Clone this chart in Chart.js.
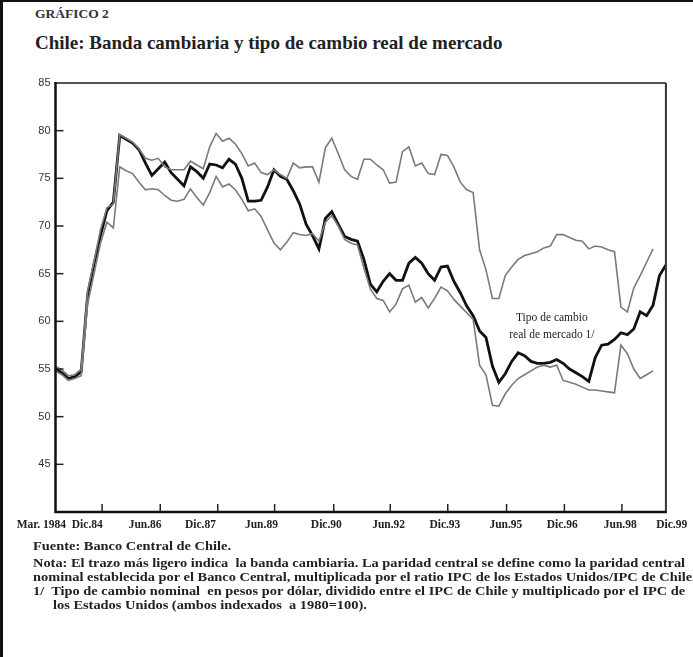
<!DOCTYPE html>
<html lang="es">
<head>
<meta charset="utf-8">
<script src="https://cdn.jsdelivr.net/npm/chart.js@4.4.1/dist/chart.umd.min.js"></script>
<style>
  html, body { margin: 0; padding: 0; background: #fff; }
  body { width: 693px; height: 657px; position: relative; overflow: hidden; font-family: "Liberation Serif", serif; color: #222; }
  .borde-izq { position: absolute; left: 0; top: 0; width: 3px; height: 657px; background: #111; }
  .borde-sup { position: absolute; left: 0; top: 0; width: 693px; height: 2px; background: #111; }
  .grafico { position: absolute; left: 35px; top: 6px; font-weight: bold; font-size: 13.5px; color: #333; }
  .titulo { position: absolute; left: 35px; top: 32px; font-weight: bold; font-size: 19px; color: #222; white-space: nowrap; }
  #contenedor { position: absolute; left: 0; top: 70px; width: 693px; height: 470px; }
  .nota { position: absolute; font-weight: bold; font-size: 12px; white-space: nowrap; color: #222; transform: scaleX(1.2); transform-origin: 0 0; }
</style>
</head>
<body>
<div class="borde-izq"></div>
<div class="borde-sup"></div>
<div class="grafico">GRÁFICO 2</div>
<div class="titulo">Chile: Banda cambiaria y tipo de cambio real de mercado</div>
<div id="contenedor"><canvas id="bandaChart"></canvas></div>
<div class="nota" style="left:33px; top:539px;">Fuente: Banco Central de Chile.</div>
<div class="nota" style="left:33px; top:556px;">Nota: El trazo más ligero indica&nbsp; la banda cambiaria. La paridad central se define como la paridad central</div>
<div class="nota" style="left:33px; top:570px;">nominal establecida por el Banco Central, multiplicada por el ratio IPC de los Estados Unidos/IPC de Chile.</div>
<div class="nota" style="left:33px; top:584px;">1/&nbsp; Tipo de cambio nominal&nbsp; en pesos por dólar, dividido entre el IPC de Chile y multiplicado por el IPC de</div>
<div class="nota" style="left:53px; top:598px;">los Estados Unidos (ambos indexados&nbsp; a 1980=100).</div>
<script>
// meses desde Mar. 1984, un dato cada dos meses
const pasoMeses = 2;

const tcr = [
  55.0, 54.6, 54.0, 54.2, 54.7, 62.8, 66.0, 69.0, 71.6, 72.5,
  79.5, 79.1, 78.7, 78.0, 76.6, 75.3, 76.0, 76.7, 75.6, 74.9,
  74.2, 76.2, 75.7, 75.0, 76.5, 76.4, 76.1, 77.0, 76.5, 75.0,
  72.6, 72.6, 72.7, 74.1, 75.9, 75.2, 74.9, 73.7, 72.3, 70.2,
  69.0, 67.6, 70.8, 71.5, 70.2, 68.9, 68.6, 68.4, 66.5, 63.9,
  63.1, 64.2, 65.0, 64.3, 64.3, 66.1, 66.7, 66.1, 65.0, 64.3,
  65.7, 65.8, 64.2, 63.0, 61.6, 60.6, 59.0, 58.3, 55.3, 53.6,
  54.5, 55.8, 56.7, 56.4, 55.8, 55.6, 55.6, 55.7, 56.0, 55.6,
  55.0, 54.6, 54.2, 53.7, 56.2, 57.5, 57.6, 58.1, 58.8, 58.6,
  59.2, 61.0, 60.6, 61.7, 64.8, 65.9
];

const bandaSup = [
  55.3, 54.9, 54.3, 54.4, 55.0, 63.2, 66.3, 69.6, 71.9, 72.3,
  79.6, 79.2, 78.8, 78.1, 77.1, 76.9, 77.1, 76.2, 75.9, 75.9,
  75.9, 76.8, 76.4, 76.0, 78.3, 79.7, 78.9, 79.2, 78.6, 77.6,
  76.3, 76.6, 75.6, 75.4, 75.9, 75.4, 75.0, 76.6, 76.1, 76.2,
  76.2, 74.6, 78.2, 79.2, 77.6, 75.9, 75.2, 74.9, 77.0, 77.0,
  76.4, 75.9, 74.5, 74.6, 77.8, 78.3, 76.3, 76.6, 75.5, 75.4,
  77.5, 77.4, 76.2, 74.6, 73.8, 73.5, 67.5, 65.4, 62.4, 62.4,
  64.8, 65.7, 66.5, 66.9, 67.1, 67.3, 67.7, 67.9, 69.1, 69.1,
  68.8, 68.5, 68.4, 67.6, 67.9, 67.8, 67.5, 67.3, 61.5, 61.0,
  63.5, 64.8, 66.2, 67.6
];

const bandaInf = [
  54.8, 54.4, 53.8, 54.0, 54.3, 61.8, 65.0, 68.2, 70.4, 69.8,
  76.2, 75.8, 75.5, 74.6, 73.8, 73.9, 73.8, 73.2, 72.7, 72.6,
  72.8, 73.9, 73.0, 72.2, 73.5, 75.2, 74.1, 74.4, 73.8, 72.8,
  71.6, 71.8, 71.0, 69.6, 68.2, 67.5, 68.3, 69.3, 69.1, 69.0,
  69.2, 68.4, 70.4, 71.1, 70.0, 68.6, 68.2, 68.0, 65.6, 63.4,
  62.4, 62.2, 61.0, 61.8, 63.4, 63.8, 62.0, 62.5, 61.4, 62.4,
  63.6, 63.2, 62.3, 61.6, 60.9, 60.2, 55.4, 54.4, 51.2, 51.1,
  52.4, 53.3, 54.0, 54.4, 54.8, 55.2, 55.4, 55.2, 55.4, 53.8,
  53.6, 53.4, 53.1, 52.8, 52.8, 52.7, 52.6, 52.5, 57.5, 56.6,
  55.0, 54.0, 54.4, 54.8
];

const etiquetasX = ['Mar. 1984', 'Dic.84', 'Jun.86', 'Dic.87', 'Jun.89', 'Dic.90',
                    'Jun.92', 'Dic.93', 'Jun.95', 'Dic.96', 'Jun.98', 'Dic.99'];
const posEtiquetas = [-4.4, 9.9, 27.9, 45.1, 64.1, 84.3, 103.7, 121.2, 140.2, 157.7, 175.8, 191.8];
const marcasX = [14.5, 32.6, 50.5, 68.2, 86.6, 104.2, 122.1, 140.4, 158.4, 176.3];
const marcasY = [45, 50, 55, 60, 65, 70, 75, 80];
const textoSerie = ['Tipo de cambio', 'real de mercado 1/'];
const posTexto = [154.5, 60.4, 58.6];

const aPuntos = arr => arr.map((v, i) => ({ x: i * pasoMeses, y: v }));

const marco = {
    id: 'marco',
    afterDatasetsDraw(chart) {
        const { ctx, chartArea: a, scales: { x, y } } = chart;
        ctx.save();
        ctx.strokeStyle = '#222';
        ctx.lineWidth = 1.5;
        marcasY.forEach(v => {
            const py = y.getPixelForValue(v);
            ctx.beginPath(); ctx.moveTo(a.left, py); ctx.lineTo(a.left + 8, py); ctx.stroke();
        });
        marcasX.forEach(v => {
            const px = x.getPixelForValue(v);
            ctx.beginPath(); ctx.moveTo(px, a.bottom); ctx.lineTo(px, a.bottom - 8); ctx.stroke();
        });
        // recuadro
        ctx.lineWidth = 2;
        ctx.strokeStyle = '#555';
        ctx.beginPath(); ctx.moveTo(a.left, a.top); ctx.lineTo(a.right, a.top); ctx.stroke();
        ctx.strokeStyle = '#333';
        ctx.beginPath(); ctx.moveTo(a.right, a.top); ctx.lineTo(a.right, a.bottom); ctx.stroke();
        ctx.lineWidth = 2.5;
        ctx.strokeStyle = '#111';
        ctx.beginPath(); ctx.moveTo(a.left, a.top - 1); ctx.lineTo(a.left, a.bottom); ctx.lineTo(a.right + 1, a.bottom); ctx.stroke();
        // rótulo de la serie
        ctx.fillStyle = '#222';
        ctx.font = '11.5px "Liberation Serif", serif';
        ctx.textAlign = 'center';
        ctx.textBaseline = 'middle';
        const tx = x.getPixelForValue(posTexto[0]);
        ctx.fillText(textoSerie[0], tx, y.getPixelForValue(posTexto[1]));
        ctx.fillText(textoSerie[1], tx, y.getPixelForValue(posTexto[2]));
        ctx.restore();
    }
};

document.addEventListener('DOMContentLoaded', () => {
    const ctx = document.getElementById('bandaChart').getContext('2d');
    new Chart(ctx, {
        type: 'line',
        data: {
            datasets: [{
                label: 'Banda superior',
                data: aPuntos(bandaSup),
                borderColor: '#7a7a7a',
                borderWidth: 1.6,
                pointRadius: 0,
                tension: 0
            }, {
                label: 'Banda inferior',
                data: aPuntos(bandaInf),
                borderColor: '#7a7a7a',
                borderWidth: 1.6,
                pointRadius: 0,
                tension: 0
            }, {
                label: 'Tipo de cambio real de mercado',
                data: aPuntos(tcr),
                borderColor: '#111',
                borderWidth: 2.8,
                pointRadius: 0,
                tension: 0
            }]
        },
        options: {
            responsive: true,
            maintainAspectRatio: false,
            animation: false,
            layout: { padding: { top: 13, right: 19, left: 0, bottom: 0 } },
            plugins: {
                legend: { display: false },
                tooltip: { enabled: false }
            },
            scales: {
                x: {
                    type: 'linear',
                    min: 0,
                    max: 190,
                    grid: { display: false, drawTicks: false },
                    border: { display: false },
                    afterBuildTicks: scale => {
                        scale.ticks = posEtiquetas.map(v => ({ value: v }));
                    },
                    afterFit: scale => { scale.height = 28; },
                    ticks: {
                        autoSkip: false,
                        maxRotation: 0,
                        padding: 6,
                        color: '#222',
                        font: { family: '"Liberation Serif", serif', size: 11.5, weight: 'bold' },
                        callback: (v, i) => etiquetasX[i]
                    }
                },
                y: {
                    min: 40,
                    max: 85,
                    grid: { display: false, drawTicks: false },
                    border: { display: false },
                    afterFit: scale => { scale.width = 55.5; },
                    ticks: {
                        stepSize: 5,
                        padding: 5,
                        color: '#333',
                        font: { family: '"Liberation Sans", sans-serif', size: 11 },
                        callback: v => (v === 40 ? '' : v)
                    }
                }
            }
        },
        plugins: [marco]
    });
});
</script>
</body>
</html>
